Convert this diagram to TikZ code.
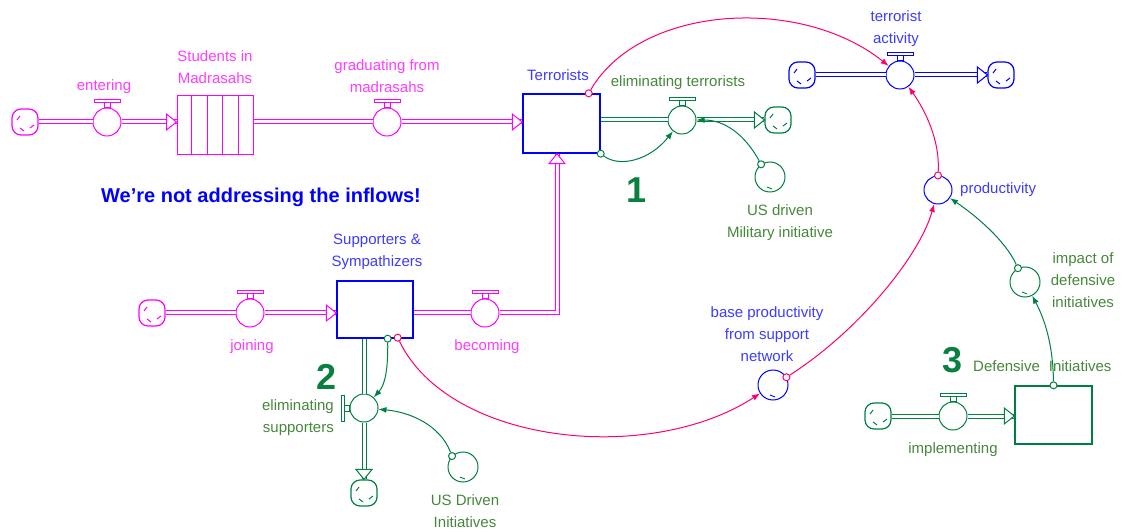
\documentclass[tikz,border=0pt]{standalone}
\usepackage{fontspec}
\setmainfont{Liberation Sans}
\usetikzlibrary{arrows.meta,calc}
\definecolor{mag}{RGB}{255,0,255}
\definecolor{maglab}{RGB}{255,60,255}
\definecolor{blu}{RGB}{0,0,255}
\definecolor{blab}{RGB}{60,60,255}
\definecolor{grn}{RGB}{0,128,64}
\definecolor{glab}{RGB}{70,135,60}
\definecolor{pnk}{RGB}{255,0,110}
\definecolor{numgrn}{RGB}{10,128,64}

% hollow arrowhead at the end of a flow pipe: colour, tip point, direction
\newcommand\pipetip[3]{\draw[#1, line width=1pt, fill=white, shift={(#2)}, rotate=#3] (0,0) -- (-10,-8) -- (-10,8) -- cycle;}
% valve handle above a valve node
\newcommand\handleup[2]{\draw[#2, line width=1pt]
  ($(#1.north)+(-3,0)$) rectangle ($(#1.north)+(3,-5)$)
  ($(#1.north)+(-13,-5)$) rectangle ($(#1.north)+(13,-8)$);}
% valve handle on the left of a valve node
\newcommand\handleleft[2]{\draw[#2, line width=1pt]
  ($(#1.west)+(0,-3)$) rectangle ($(#1.west)+(-5,3)$)
  ($(#1.west)+(-5,-13)$) rectangle ($(#1.west)+(-8,13)$);}

\begin{document}
\begin{tikzpicture}[x=1pt,y=-1pt,
  every node/.style={font=\fontsize{15}{22}\selectfont, inner sep=0pt},
  flowpipe/.style={line width=5pt, postaction={draw=white, line width=3pt}},
  valve/.style={draw, circle, minimum size=28pt, line width=1pt},
  aux/.style={draw, circle, minimum size=30pt, line width=1pt,
    path picture={\draw[line width=0.9pt] ($(path picture bounding box.center)+(-3,10)$) -- ++(5,2);}},
  stockbox/.style={draw, rectangle, line width=1.4pt},
  cloudbox/.style={draw, rounded corners=9pt, minimum size=26pt, line width=1.2pt,
    path picture={\draw[line width=1pt]
      ($(path picture bounding box.center)+(-8,-2)$) -- ++(3,-4)
      ($(path picture bounding box.center)+(5,6)$) -- ++(4,-3)
      ($(path picture bounding box.center)+(-1,9)$) -- ++(-4,-3);}},
  marker/.style={draw, circle, minimum size=7pt, line width=1pt, fill=white},
  link/.style={line width=1pt, -{Latex[length=8pt,width=6pt]}},
  lbl/.style={align=center},
  bignum/.style={font=\fontsize{36}{36}\selectfont\bfseries, text=numgrn},
]
\useasboundingbox (0,0) rectangle (1130,529);

% ---------- stocks ----------
\node[stockbox, draw=mag, line width=1pt, minimum width=76pt, minimum height=59pt] (S) at (215,125.5) {};
\foreach \k in {1,...,4}
  \draw[mag, line width=1pt] ($(S.north west)!\k/5!(S.north east)$) -- ($(S.south west)!\k/5!(S.south east)$);
\node[stockbox, draw=blu, minimum width=77pt, minimum height=59pt] (T) at (561.5,123.5) {};
\node[stockbox, draw=blu, minimum width=76pt, minimum height=57pt] (P) at (375,309.5) {};
\node[stockbox, draw=grn, minimum width=77pt, minimum height=58pt] (D) at (1053.5,415) {};

% ---------- clouds ----------
\node[cloudbox, mag] (c1) at (25,122) {};
\node[cloudbox, grn] (c2) at (778,120) {};
\node[cloudbox, blu] (c3) at (802,75) {};
\node[cloudbox, blu] (c4) at (1001,75) {};
\node[cloudbox, mag] (c5) at (152,313) {};
\node[cloudbox, grn] (c6) at (364,493) {};
\node[cloudbox, grn] (c7) at (878,416) {};

% ---------- valves ----------
\node[valve, draw=mag] (ven) at (107,122) {};
\node[valve, draw=mag] (vgr) at (387,122) {};
\node[valve, draw=grn] (vet) at (682,120) {};
\node[valve, draw=blu] (vta) at (900,75) {};
\node[valve, draw=mag] (vjo) at (250,313) {};
\node[valve, draw=mag] (vbe) at (485,313) {};
\node[valve, draw=grn] (ves) at (364,408) {};
\node[valve, draw=grn] (vim) at (953,416) {};
\handleup{ven}{mag}
\handleup{vgr}{mag}
\handleup{vet}{grn}
\handleup{vta}{blu}
\handleup{vjo}{mag}
\handleup{vbe}{mag}
\handleup{vim}{grn}
\handleleft{ves}{grn}

% ---------- auxiliaries ----------
\node[aux, draw=grn] (usm) at (770,177) {};
\node[aux, draw=grn] (usd) at (463,467) {};
\node[valve, draw=blu] (prod) at (938,190) {};
\node[aux, draw=blu] (bp) at (773,385) {};
\node[aux, draw=grn] (imp) at (1025,282) {};

% ---------- flow pipes ----------
\draw[flowpipe, mag] (c1.east) -- (ven.west);
\draw[flowpipe, mag] (ven.east) -- (ven.east -| S.west);
\pipetip{mag}{ven.east -| S.west}{0}
\draw[flowpipe, mag] (S.east |- vgr.west) -- (vgr.west);
\draw[flowpipe, mag] (vgr.east) -- (vgr.east -| T.west);
\pipetip{mag}{vgr.east -| T.west}{0}

\draw[flowpipe, grn] (T.east |- vet.west) -- (vet.west);
\draw[flowpipe, grn] (vet.east) -- (c2.west);
\pipetip{grn}{c2.west}{0}

\draw[flowpipe, blu] (c3.east) -- (vta.west);
\draw[flowpipe, blu] (vta.east) -- (c4.west);
\pipetip{blu}{c4.west}{0}

\coordinate (bend) at (557,313);
\draw[flowpipe, mag] (c5.east) -- (vjo.west);
\draw[flowpipe, mag] (vjo.east) -- (vjo.east -| P.west);
\pipetip{mag}{vjo.east -| P.west}{0}
\draw[flowpipe, mag] (P.east |- vbe.west) -- (vbe.west);
\draw[flowpipe, mag] (vbe.east) -- (bend) -- (bend |- T.south);
\pipetip{mag}{bend |- T.south}{90}

\draw[flowpipe, grn] (ves.north |- P.south) -- (ves.north);
\draw[flowpipe, grn] (ves.south) -- (c6.north);
\pipetip{grn}{c6.north}{-90}

\draw[flowpipe, grn] (c7.east) -- (vim.west);
\draw[flowpipe, grn] (vim.east) -- (vim.east -| D.west);
\pipetip{grn}{vim.east -| D.west}{0}

% ---------- connector origins ----------
\node[marker, draw=pnk] (m1) at ($(T.north east)+(-12,0)$) {};
\node[marker, draw=grn] (m2) at (T.south east) {};
\node[marker, draw=grn] (m3) at (usm.125) {};
\node[marker, draw=pnk] (m4) at (prod.north) {};
\node[marker, draw=pnk] (m5) at ($(P.south east)+(-16,-1)$) {};
\node[marker, draw=grn] (m6) at ($(P.south east)+(-26,0)$) {};
\node[marker, draw=pnk] (m7) at (bp.30) {};
\node[marker, draw=grn] (m8) at (imp.117) {};
\node[marker, draw=grn] (m9) at (D.north) {};
\node[marker, draw=grn] (m10) at (usd.135) {};

% ---------- connectors ----------
\draw[link, pnk] (m1) .. controls (640,5) and (800,-5) .. (vta);
\draw[link, grn] (m2) .. controls (620,168) and (650,160) .. (vet);
\draw[link, grn] (m3) .. controls (745,135) and (725,120) .. (vet);
\draw[link, pnk] (m4) .. controls (940,140) and (925,110) .. (vta);
\draw[link, pnk] (m5) .. controls (450,445) and (650,465) .. (bp);
\draw[link, pnk] (m7) .. controls (860,330) and (920,255) .. (prod);
\draw[link, grn] (m8) .. controls (1005,240) and (975,215) .. (prod);
\draw[link, grn] (m9) .. controls (1053,345) and (1045,320) .. (imp);
\draw[link, grn] (m6) .. controls (388,370) and (385,385) .. (ves);
\draw[link, grn] (m10) .. controls (440,425) and (410,412) .. (ves);

% ---------- labels ----------
\node[text=maglab] (lent) at (104,87) {entering};
\node[text=maglab, lbl] (lstu) at (215,67) {Students in\\Madrasahs};
\node[text=maglab, lbl] (lgr) at (387,76) {graduating from\\madrasahs};
\node[text=blab] (lter) at (558,75) {Terrorists};
\node[text=glab] (let) at (678,83) {eliminating terrorists};
\node[text=glab, lbl] (lusm) at (780,223) {US driven\\Military initiative};
\node[bignum] (n1) at (637,190) {1};
\node[text=blab, lbl] (lta) at (896,29) {terrorist\\activity};
\node[text=blab, anchor=west] (lpr) at (960,190) {productivity};
\node[text=blu, font=\fontsize{20}{24}\selectfont\bfseries] (lnote) at (261,197) {We're not addressing the inflows!};
\node[text=blab, lbl] (lsup) at (377,252) {Supporters \&\\Sympathizers};
\node[text=maglab] (ljo) at (252,347) {joining};
\node[text=maglab] (lbe) at (487,347) {becoming};
\node[bignum] (n2) at (327,377) {2};
\node[text=glab, align=right, anchor=east] (les) at (334,418) {eliminating\\supporters};
\node[text=glab, lbl] (lusd) at (465,511) {US Driven\\Initiatives};
\node[text=blab, lbl] (lbp) at (767,334) {base productivity\\from support\\network};
\node[text=glab, lbl] (limp) at (1083,280) {impact of\\defensive\\initiatives};
\node[bignum] (n3) at (953,360) {3};
\node[text=glab, anchor=west] (ldef) at (973,366) {Defensive\hspace{9pt}Initiatives};
\node[text=glab] (lim) at (953,450) {implementing};
\end{tikzpicture}
\end{document}
